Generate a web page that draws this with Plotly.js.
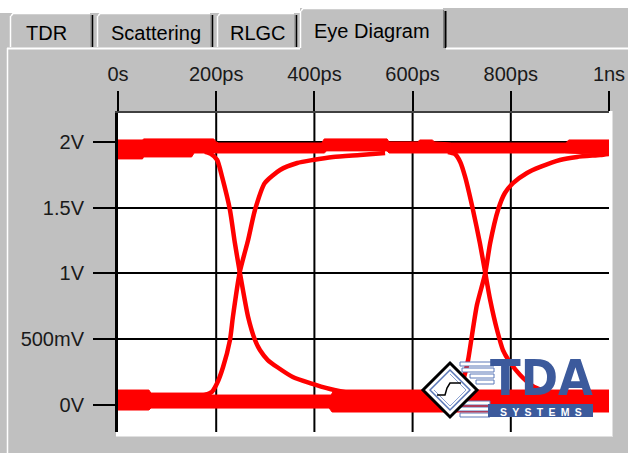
<!DOCTYPE html>
<html>
<head>
<meta charset="utf-8">
<script src="https://cdn.plot.ly/plotly-3.0.1.min.js"></script>
<style>
  html, body { margin:0; padding:0; background:#c0c0c0; }
  #chart { width:628px; height:453px; }
</style>
</head>
<body>
<div id="chart"></div>
<script>
// ---------------- data (time in ps, voltage in V) ----------------
const timeTickVals = [0, 200, 400, 600, 800, 1000];
const timeTickText = ['0s', '200ps', '400ps', '600ps', '800ps', '1ns'];
const voltTickVals = [0, 0.5, 1, 1.5, 2];
const voltTickText = ['0V', '500mV', '1V', '1.5V', '2V'];
const tabLabels = ['TDR', 'Scattering', 'RLGC', 'Eye Diagram'];

// high-level band envelope
const hiTopT = [0, 50, 52, 195, 200, 205, 415, 420, 548, 552, 610, 615, 640, 645, 680, 912, 918, 1000];
const hiTopV = [2.015, 2.015, 2.023, 2.023, 2.0, 1.992, 1.992, 2.023, 2.023, 2.0, 2.0, 2.015, 2.015, 2.0, 1.992, 1.992, 2.015, 2.015];
const hiBotT = [0, 50, 52, 150, 155, 420, 425, 548, 552, 910, 1000];
const hiBotV = [1.871, 1.871, 1.886, 1.886, 1.916, 1.916, 1.932, 1.932, 1.916, 1.916, 1.905];

// low-level band envelope
const loTopT = [0, 63, 67, 183, 188, 434, 440, 1000];
const loTopV = [0.114, 0.114, 0.091, 0.091, 0.076, 0.076, 0.114, 0.114];
const loBotT = [0, 63, 67, 430, 436, 1000];
const loBotV = [-0.038, -0.038, -0.023, -0.023, -0.053, -0.053];

// transitions
const fall1T = [177, 189, 202, 212, 228, 238, 248, 265, 279, 289, 305, 324, 356, 391, 432, 472, 513];
const fall1V = [1.924, 1.909, 1.863, 1.734, 1.483, 1.232, 1.011, 0.669, 0.494, 0.418, 0.342, 0.289, 0.213, 0.167, 0.122, 0.091, 0.068];
const rise1T = [157, 177, 191, 202, 214, 228, 234, 248, 265, 279, 299, 330, 365, 397, 438, 493, 544];
const rise1V = [0.068, 0.076, 0.099, 0.167, 0.289, 0.494, 0.669, 1.011, 1.255, 1.483, 1.688, 1.787, 1.840, 1.863, 1.886, 1.901, 1.916];
const fall2T = [672, 686, 697, 707, 723, 737, 748, 758, 772, 784, 798, 819, 845, 880, 931, 1000];
const fall2V = [1.924, 1.909, 1.848, 1.734, 1.483, 1.232, 1.004, 0.798, 0.570, 0.418, 0.327, 0.228, 0.144, 0.091, 0.061, 0.046];
const rise2T = [656, 680, 697, 707, 713, 721, 731, 748, 758, 774, 788, 805, 833, 860, 900, 935, 982, 1000];
const rise2V = [0.068, 0.084, 0.129, 0.243, 0.342, 0.532, 0.760, 1.004, 1.232, 1.483, 1.612, 1.688, 1.764, 1.810, 1.863, 1.886, 1.901, 1.909];

// ---------------- geometry helpers (pixel -> paper) ----------------
const W = 628, H = 453;
const M = {l:118, r:19, t:113, b:21};
const PW = W - M.l - M.r, PH = H - M.t - M.b;
const X = px => (px - M.l) / PW;
const Y = py => (H - M.b - py) / PH;

const RED = '#ff0000';
const band = (t, v, fill) => ({
  x: t, y: v, type: 'scatter', mode: 'lines', hoverinfo: 'skip',
  line: {color: RED, width: 1}, fill: fill ? 'tonexty' : 'none', fillcolor: RED
});
const edge = (t, v) => ({
  x: t, y: v, type: 'scatter', mode: 'lines', hoverinfo: 'skip',
  line: {color: RED, width: 4.5, shape: 'spline', smoothing: 0.6}
});

const traces = [
  band(hiTopT, hiTopV, false), band(hiBotT, hiBotV, true),
  band(loTopT, loTopV, false), band(loBotT, loBotV, true),
  edge(fall1T, fall1V), edge(rise1T, rise1V),
  edge(fall2T, fall2V), edge(rise2T, rise2V)
];

// ---------------- decorations ----------------
const shapes = [];
const rect = (x0, y0, x1, y1, fill, layer, line) => shapes.push({
  type: 'rect', xref: 'paper', yref: 'paper', x0: X(x0), x1: X(x1), y0: Y(y0), y1: Y(y1),
  fillcolor: fill, line: line || {width: 0}, layer: layer || 'below'
});
const seg = (x0, y0, x1, y1, color, width, layer) => shapes.push({
  type: 'line', xref: 'paper', yref: 'paper', x0: X(x0), x1: X(x1), y0: Y(y0), y1: Y(y1),
  line: {color: color, width: width}, layer: layer || 'below'
});
const path = (pts, stroke, width, fill, layer) => shapes.push({
  type: 'path', xref: 'paper', yref: 'paper',
  path: 'M' + pts.map(p => X(p[0]) + ',' + Y(p[1])).join(' L') + (fill ? ' Z' : ''),
  line: {color: stroke, width: width}, fillcolor: fill || 'rgba(0,0,0,0)', layer: layer || 'below'
});

// top white strip
rect(0, 0, W, 8, '#ffffff');
rect(0, 8, 300, 13, '#ffffff');
// unselected tabs
const tabs = [[10, 93], [97, 213], [217, 297]];
tabs.forEach(([a, b]) => {
  seg(a + 0.5, 47, a + 0.5, 16, '#ffffff', 1.5);
  path([[a + 1, 16], [a + 3, 13.5], [b - 3, 13.5]], '#ffffff', 1.5);
  seg(b - 2, 15, b - 2, 47, '#808080', 1);
  seg(b - 0.5, 15, b - 0.5, 47, '#000000', 1.5);
});
// selected tab
seg(300.5, 48, 300.5, 11, '#ffffff', 1.5);
path([[301, 11], [303, 8.5], [443, 8.5]], '#ffffff', 1.5);
seg(443.5, 10, 443.5, 48, '#808080', 1);
seg(445.5, 11, 445.5, 48, '#000000', 2);
// panel border
seg(7.5, 48, 7.5, H, '#ffffff', 1.5);
seg(7, 48.5, 300, 48.5, '#ffffff', 2);
seg(446, 48.5, W, 48.5, '#ffffff', 2);
// white bevel around plot
rect(116, 111, 612, 436, '#ffffff');
seg(612.5, 111, 612.5, 437, '#e0e0e0', 1);
seg(116, 436.5, 613, 436.5, '#e0e0e0', 1);

// vertical grid lines from the time ticks
timeTickVals.filter(v => v > 0 && v < 1000).forEach(v => shapes.push({
  type: 'line', xref: 'x', yref: 'paper', x0: v, x1: v, y0: 0, y1: 1,
  line: {color: '#000000', width: 2}, layer: 'below'
}));

// TDA Systems logo
const BLUE = '#3c5a9c';
// speed-line bars
[[364, 460, 494], [370, 462, 494], [376, 470, 494], [382, 476, 494]].forEach(([cy, a, b]) =>
  rect(a, cy - 2, b, cy + 2, '#ffffff', 'above', {color: '#5a78b8', width: 1}));
[[403, 462, 490], [409, 458, 490], [415, 460, 490]].forEach(([cy, a, b]) =>
  rect(a, cy - 2, b, cy + 2, '#ffffff', 'above', {color: '#5a78b8', width: 1}));
// systems bar
rect(488, 404, 593, 417, BLUE, 'above');
// diamond
path([[450, 363], [477, 390], [450, 417], [423, 390]], '#000000', 3, '#ffffff', 'above');
path([[450, 370], [470, 390], [450, 410], [430, 390]], '#5a78b8', 1.5, '#ffffff', 'above');
path([[450, 374], [466, 390], [450, 406], [434, 390]], '#8aa0d0', 1, null, 'above');
path([[437, 395], [445, 395], [447, 388], [450, 383], [461, 383]], '#000000', 1.5, null, 'above');

const annotations = [];
const label = (text, x, y, opts) => annotations.push(Object.assign({
  text: text, xref: 'paper', yref: 'paper', x: X(x), y: Y(y), showarrow: false,
  xanchor: 'center', yanchor: 'middle',
  font: {family: 'Liberation Sans, Arial, sans-serif', size: 20, color: '#000000'}
}, opts || {}));

const tabCenters = [[46, 33], [156, 33], [258, 33], [372, 31]];
tabLabels.forEach((t, i) => label(t, tabCenters[i][0], tabCenters[i][1]));
label('TDA', 541, 378, {font: {family: 'DejaVu Sans Condensed, DejaVu Sans, sans-serif', size: 50, weight: 'bold', color: BLUE}});
label('SYSTEMS'.split('').join('\u2002'), 541, 411.5,
  {font: {family: 'Liberation Sans, Arial, sans-serif', size: 10.5, weight: 'bold', color: '#ffffff'}});

const tickFont = {family: 'Liberation Sans, Arial, sans-serif', size: 20, color: '#1a1a1a'};
const layout = {
  width: W, height: H,
  margin: {l: M.l, r: M.r, t: M.t, b: M.b, pad: 0},
  paper_bgcolor: '#c0c0c0', plot_bgcolor: '#ffffff',
  showlegend: false,
  xaxis: {
    range: [0, 1000], side: 'top', tickmode: 'array', tickvals: timeTickVals, ticktext: timeTickText,
    ticks: 'outside', ticklen: 20, tickwidth: 2, tickcolor: '#000000',
    showgrid: false, zeroline: false, showline: true, linecolor: '#404040', linewidth: 2,
    tickfont: tickFont, ticklabelstandoff: 2, fixedrange: true
  },
  yaxis: {
    range: [-0.205, 2.22], tickmode: 'array', tickvals: voltTickVals, ticktext: voltTickText,
    ticks: 'outside', ticklen: 22, tickwidth: 2, tickcolor: '#000000',
    showgrid: true, gridcolor: '#000000', gridwidth: 2, zeroline: false,
    showline: true, linecolor: '#000000', linewidth: 3,
    tickfont: tickFont, ticklabelstandoff: 5, fixedrange: true
  },
  shapes: shapes,
  annotations: annotations
};

Plotly.newPlot('chart', traces, layout, {displayModeBar: false, staticPlot: true});
</script>
</body>
</html>
